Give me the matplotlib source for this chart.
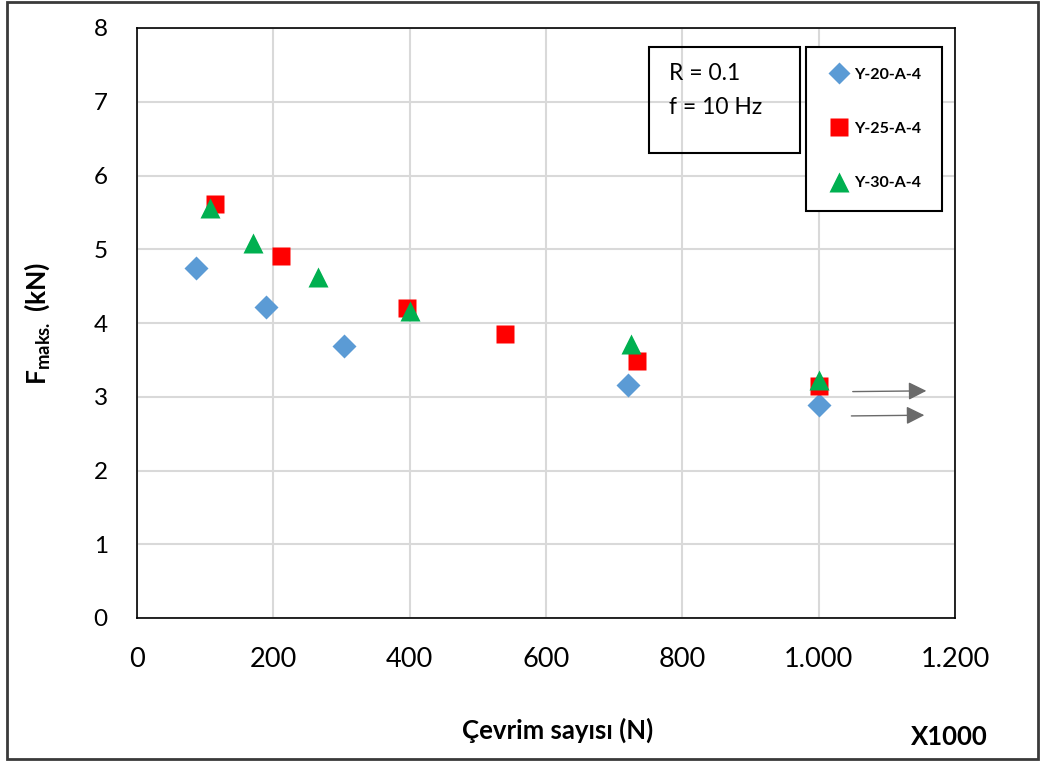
import matplotlib
matplotlib.use("Agg")
import matplotlib.pyplot as plt
from matplotlib.patches import Rectangle

plt.rcParams['font.family'] = ['Lato', 'DejaVu Sans']
plt.rcParams['mathtext.fontset'] = 'custom'
plt.rcParams['mathtext.rm'] = 'Lato:bold'
plt.rcParams['mathtext.bf'] = 'Lato:bold'

# Cycle counts (x1000) and maximum load (kN) for each specimen series
x_y20 = [87, 189, 303, 720, 1000]
f_y20 = [4.75, 4.22, 3.69, 3.16, 2.89]
x_y25 = [114, 211, 396, 540, 734, 1000]
f_y25 = [5.61, 4.91, 4.20, 3.85, 3.49, 3.14]
x_y30 = [107, 170, 265, 400, 725, 1000]
f_y30 = [5.56, 5.09, 4.62, 4.16, 3.71, 3.23]

series_names = ['Y-20-A-4', 'Y-25-A-4', 'Y-30-A-4']

# Run-out arrows (specimens that did not fail): start and end points
runout_start_x = [1050, 1048]
runout_start_f = [3.07, 2.74]
runout_end_x = [1158, 1155]
runout_end_f = [3.08, 2.75]

xticks = [0, 200, 400, 600, 800, 1000, 1200]
xtick_labels = ['0', '200', '400', '600', '800', '1.000', '1.200']
yticks = [0, 1, 2, 3, 4, 5, 6, 7, 8]

W, H = 1044, 762
fig = plt.figure(figsize=(W / 100, H / 100), dpi=100)
ax = fig.add_axes([137 / W, 1 - 618 / H, 818 / W, 590 / H])

blue, red, green = '#5B9BD5', '#FF0000', '#00B050'
h1, = ax.plot(x_y20, f_y20, 'D', color=blue, markersize=12, mec='none', zorder=3)
h2, = ax.plot(x_y25, f_y25, 's', color=red, markersize=13, mec='none', zorder=4)
h3, = ax.plot(x_y30, f_y30, '^', color=green, markersize=14.5, mec='none', zorder=5)

for sx, sf, ex, ef in zip(runout_start_x, runout_start_f, runout_end_x, runout_end_f):
    ax.annotate('', xy=(ex, ef), xytext=(sx, sf),
                arrowprops=dict(arrowstyle='-|>,head_length=1.1,head_width=0.55',
                                color='#6a6a6a', lw=1.0, shrinkA=0, shrinkB=0),
                zorder=6)

ax.set_xlim(0, 1200)
ax.set_ylim(0, 8)
ax.set_xticks(xticks)
ax.set_xticklabels(xtick_labels)
ax.set_yticks(yticks)
ax.grid(True, color='#D9D9D9', lw=1.5)
ax.set_axisbelow(True)
for sp in ax.spines.values():
    sp.set_color('black')
    sp.set_linewidth(1.2)
ax.tick_params(axis='x', length=0, pad=21, labelsize=19.5)
ax.tick_params(axis='y', length=0, pad=21, labelsize=17.5)

ax.set_ylabel(r'$\mathbf{F_{maks.}}$ (kN)', fontsize=19, fontweight='bold')
ax.yaxis.set_label_coords(-0.104, 0.5)

fig.text(558 / W, 1 - 730 / H, 'Çevrim sayısı (N)', fontsize=18.5, fontweight='bold',
         ha='center', va='center')
fig.text(949 / W, 1 - 737 / H, 'X1000', fontsize=18.5, fontweight='bold',
         ha='center', va='center')

# Test conditions box
fig.patches.append(Rectangle((649 / W, 1 - 153 / H), 151 / W, 106 / H,
                             transform=fig.transFigure, fill=False,
                             edgecolor='black', lw=1.5, zorder=10))
fig.text(669 / W, 1 - 74 / H, 'R = 0.1', fontsize=16.5, ha='left', va='center', zorder=11)
fig.text(669 / W, 1 - 107 / H, 'f = 10 Hz', fontsize=16.5, ha='left', va='center', zorder=11)

leg = ax.legend([h1, h2, h3], series_names, loc='upper left',
                bbox_to_anchor=(806 / W, 1 - 47 / H), bbox_transform=fig.transFigure,
                borderaxespad=0, frameon=True, fancybox=False, framealpha=1,
                edgecolor='black', prop={'weight': 'bold', 'size': 11.5},
                borderpad=1.3, labelspacing=2.5, handlelength=1.5, handletextpad=0.2,
                markerscale=0.95)
leg.get_frame().set_linewidth(1.5)

# Outer frame of the figure
fig.patches.append(Rectangle((7 / W, 1 - 759 / H), 1031 / W, 757 / H,
                             transform=fig.transFigure, fill=False,
                             edgecolor='#3a3a3a', lw=2, zorder=0))

fig.savefig('out.png', dpi=100, facecolor='white')
